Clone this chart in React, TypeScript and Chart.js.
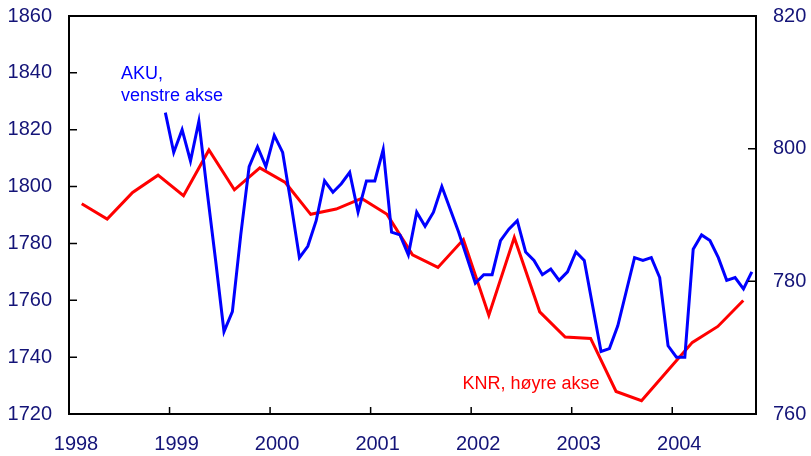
import React, { useEffect, useRef } from "react";
import { Chart, registerables } from "chart.js";

Chart.register(...registerables);

// AKU (left axis), monthly, Dec 1998 – Oct 2004
const akuStartYear = 1998;
const akuStartMonth = 12;
const akuValues = [
  1826, 1812, 1820, 1809, 1823, 1798, 1774, 1749, 1756, 1783, 1807, 1814,
  1807, 1818, 1812, 1794, 1775, 1779, 1788, 1802, 1798, 1801, 1805, 1791,
  1802, 1802, 1813, 1784, 1783, 1776, 1791, 1786, 1791, 1800, 1792, 1784,
  1775, 1766, 1769, 1769, 1781, 1785, 1788, 1777, 1774, 1769, 1771, 1767,
  1770, 1777, 1774, 1758, 1742, 1743, 1751, 1763, 1775, 1774, 1775, 1768,
  1744, 1740, 1740, 1778, 1783, 1781, 1775, 1767, 1768, 1764, 1770,
];

// KNR (right axis), quarterly, 1998K1 – 2004K3
const knrQuarters = [
  "1998K1", "1998K2", "1998K3", "1998K4",
  "1999K1", "1999K2", "1999K3", "1999K4",
  "2000K1", "2000K2", "2000K3", "2000K4",
  "2001K1", "2001K2", "2001K3", "2001K4",
  "2002K1", "2002K2", "2002K3", "2002K4",
  "2003K1", "2003K2", "2003K3", "2003K4",
  "2004K1", "2004K2", "2004K3",
];
const knrValues = [
  791.7, 789.4, 793.4, 796.0, 792.9, 799.8, 793.8, 797.1, 794.9, 790.1,
  790.9, 792.5, 790.1, 784.0, 782.1, 786.3, 774.9, 786.6, 775.4, 771.6,
  771.4, 763.4, 762.0, 766.4, 770.8, 773.2, 777.1,
];

const xTickYears = [1998, 1999, 2000, 2001, 2002, 2003, 2004];
const xMin = 1998;
const xMax = 2004.833;
const yLeftTicks = [1720, 1740, 1760, 1780, 1800, 1820, 1840, 1860];
const yRightTicks = [760, 780, 800, 820];

const akuLabel = ["AKU,", "venstre akse"];
const knrLabel = "KNR, høyre akse";

const FONT = '"Liberation Sans", Arial, Helvetica, sans-serif';
const NAVY = "#141478";

export default function App() {
  const ref = useRef<HTMLCanvasElement | null>(null);

  useEffect(() => {
    const canvas = ref.current;
    if (!canvas) return;

    const akuData = akuValues.map((v, i) => {
      const m = akuStartMonth - 1 + i;
      const year = akuStartYear + Math.floor(m / 12);
      const month = m % 12;
      return { x: year + (month + 0.5) / 12, y: v };
    });
    const knrData = knrValues.map((v, i) => ({ x: knrQuarters[i], y: v }));

    const framePlugin = {
      id: "frameAndTicks",
      afterDraw(chart: any) {
        const { ctx, chartArea: a, scales } = chart;
        ctx.save();
        ctx.strokeStyle = "#000";
        ctx.lineWidth = 2;
        ctx.strokeRect(a.left, a.top, a.right - a.left, a.bottom - a.top);
        ctx.lineWidth = 1.5;
        ctx.beginPath();
        const tl = 8;
        scales.y.ticks.forEach((t: any) => {
          const py = scales.y.getPixelForValue(t.value);
          ctx.moveTo(a.left, py);
          ctx.lineTo(a.left + tl, py);
        });
        scales.y2.ticks.forEach((t: any) => {
          const py = scales.y2.getPixelForValue(t.value);
          ctx.moveTo(a.right, py);
          ctx.lineTo(a.right - tl, py);
        });
        scales.x.ticks.forEach((t: any) => {
          const px = scales.x.getPixelForValue(t.value);
          ctx.moveTo(px, a.bottom);
          ctx.lineTo(px, a.bottom - 7);
        });
        ctx.stroke();

        // annotations
        ctx.font = `18px ${FONT}`;
        ctx.textBaseline = "alphabetic";
        ctx.fillStyle = "#0000ff";
        ctx.textAlign = "left";
        const ax = scales.x.getPixelForValue(1998.517);
        ctx.fillText(akuLabel[0], ax, scales.y.getPixelForValue(1837.8));
        ctx.fillText(akuLabel[1], ax, scales.y.getPixelForValue(1830.1));
        ctx.fillStyle = "#ff0000";
        ctx.textAlign = "right";
        ctx.fillText(
          knrLabel,
          scales.x.getPixelForValue(2003.277),
          scales.y.getPixelForValue(1728.8)
        );
        ctx.restore();
      },
    };

    const chart = new Chart(canvas, {
      type: "line",
      data: {
        datasets: [
          {
            label: "AKU",
            data: akuData,
            xAxisID: "x",
            yAxisID: "y",
            borderColor: "#0000ff",
            borderWidth: 3,
            pointRadius: 0,
            tension: 0,
            fill: false,
          },
          {
            label: "KNR",
            data: knrData,
            xAxisID: "x2",
            yAxisID: "y2",
            borderColor: "#ff0000",
            borderWidth: 3,
            pointRadius: 0,
            tension: 0,
            fill: false,
          },
        ],
      },
      options: {
        responsive: false,
        animation: false,
        devicePixelRatio: 1,
        layout: { padding: { top: 16, left: 0, right: 0, bottom: 0 } },
        plugins: {
          legend: { display: false },
          tooltip: { enabled: false },
          title: { display: false },
        },
        scales: {
          x: {
            type: "linear",
            position: "bottom",
            min: xMin,
            max: xMax,
            grid: { display: false, drawTicks: false },
            border: { display: false },
            ticks: {
              color: NAVY,
              font: { family: FONT, size: 20 },
              padding: 18,
              labelOffset: 7,
              maxRotation: 0,
              autoSkip: false,
              callback: (v: any) => String(v),
            },
            afterBuildTicks: (s: any) => {
              s.ticks = xTickYears.map((v) => ({ value: v }));
            },
            afterFit: (s: any) => {
              s.height = 42;
              s.paddingLeft = 0;
              s.paddingRight = 0;
            },
          },
          x2: {
            type: "category",
            labels: knrQuarters,
            offset: true,
            display: false,
          },
          y: {
            type: "linear",
            position: "left",
            min: yLeftTicks[0],
            max: yLeftTicks[yLeftTicks.length - 1],
            grid: { display: false, drawTicks: false },
            border: { display: false },
            ticks: {
              color: NAVY,
              font: { family: FONT, size: 20 },
              padding: 17,
              callback: (v: any) => String(v),
            },
            afterBuildTicks: (s: any) => {
              s.ticks = yLeftTicks.map((v) => ({ value: v }));
            },
            afterFit: (s: any) => {
              s.width = 69;
              s.paddingTop = 0;
              s.paddingBottom = 0;
            },
          },
          y2: {
            type: "linear",
            position: "right",
            min: yRightTicks[0],
            max: yRightTicks[yRightTicks.length - 1],
            grid: { display: false, drawTicks: false },
            border: { display: false },
            ticks: {
              color: NAVY,
              font: { family: FONT, size: 20 },
              padding: 17,
              callback: (v: any) => String(v),
            },
            afterBuildTicks: (s: any) => {
              s.ticks = yRightTicks.map((v) => ({ value: v }));
            },
            afterFit: (s: any) => {
              s.width = 55;
              s.paddingTop = 0;
              s.paddingBottom = 0;
            },
          },
        },
      },
      plugins: [framePlugin],
    });

    return () => chart.destroy();
  }, []);

  return (
    <div style={{ position: "absolute", left: 0, top: 0, width: 811, height: 456 }}>
      <canvas
        ref={ref}
        width={811}
        height={456}
        style={{ display: "block", width: 811, height: 456 }}
      />
    </div>
  );
}
